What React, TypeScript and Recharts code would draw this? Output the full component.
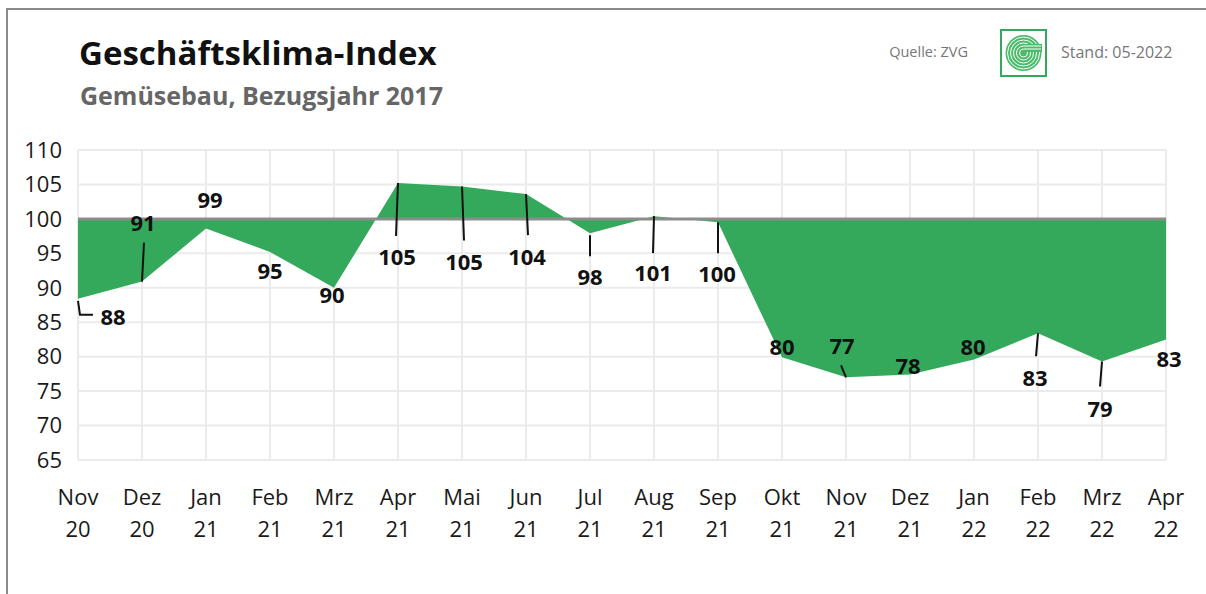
import { AreaChart, Area, XAxis, YAxis, CartesianGrid, ReferenceLine, LabelList } from "recharts";

const months = ["Nov", "Dez", "Jan", "Feb", "Mrz", "Apr", "Mai", "Jun", "Jul", "Aug", "Sep", "Okt", "Nov", "Dez", "Jan", "Feb", "Mrz", "Apr"];
const years = ["20", "20", "21", "21", "21", "21", "21", "21", "21", "21", "21", "21", "21", "21", "22", "22", "22", "22"];
const index = [88.4, 90.9, 98.6, 95.2, 90.0, 105.2, 104.7, 103.6, 97.9, 100.4, 99.5, 79.9, 77.0, 77.4, 79.6, 83.4, 79.3, 82.5];
const shownLabels = [88, 91, 99, 95, 90, 105, 105, 104, 98, 101, 100, 80, 77, 78, 80, 83, 79, 83];
const yTicks = [65, 70, 75, 80, 85, 90, 95, 100, 105, 110];

// where each value label sits relative to its point, plus an optional leader line
const labelLayout = [
  { dx: 35, dy: 18, leader: [[0, 2], [2, 16], [15, 16]] },
  { dx: 1, dy: -58, leader: [[0, 0], [2, -39]] },
  { dx: 4, dy: -28, leader: null },
  { dx: 0, dy: 19, leader: null },
  { dx: -2, dy: 7, leader: null },
  { dx: -1, dy: 74, leader: [[0, 0], [-2, 53]] },
  { dx: 2, dy: 76, leader: [[0, 0], [2, 54]] },
  { dx: 1, dy: 63, leader: [[0, 0], [2, 41]] },
  { dx: 0, dy: 44, leader: [[0, 2], [0, 23]] },
  { dx: -1, dy: 57, leader: [[0, 0], [-1, 37]] },
  { dx: -1, dy: 52, leader: [[0, 0], [0, 31]] },
  { dx: 0, dy: -10, leader: null },
  { dx: -4, dy: -31, leader: [[0, 0], [-5, -12]] },
  { dx: -2, dy: -8, leader: null },
  { dx: -1, dy: -12, leader: null },
  { dx: -3, dy: 45, leader: [[0, 0], [-2, 23]] },
  { dx: -2, dy: 48, leader: [[0, 0], [-2, 25]] },
  { dx: 3, dy: 20, leader: null },
];

const data = months.map((m, i) => ({ key: i, month: m, year: years[i], value: index[i], label: shownLabels[i] }));

const FONT = "'Open Sans', Lato, sans-serif";
const GREEN = "#35a95b";

function MonthTick({ x, y, payload }: any) {
  const d = data[payload.value];
  return (
    <g>
      <text x={x} y={y + 45} textAnchor="middle" fontSize={22} fill="#1a1a1a" fontFamily={FONT}>{d.month}</text>
      <text x={x} y={y + 77} textAnchor="middle" fontSize={22} fill="#1a1a1a" fontFamily={FONT}>{d.year}</text>
    </g>
  );
}

function ValueLabel(props: any) {
  const { x, y, index: i } = props;
  if (x == null || y == null) return null;
  const lay = labelLayout[i];
  return (
    <g>
      {lay.leader && (
        <polyline
          points={lay.leader.map(([a, b]) => `${x + a},${y + b}`).join(" ")}
          fill="none"
          stroke="#111"
          strokeWidth={2}
        />
      )}
      <text
        x={x + lay.dx}
        y={y + lay.dy}
        dy="0.36em"
        textAnchor="middle"
        fontSize={22}
        fontWeight={700}
        fill="#111"
        fontFamily={FONT}
      >
        {shownLabels[i]}
      </text>
    </g>
  );
}

function Logo() {
  return (
    <svg width={48} height={48} style={{ position: "absolute", left: 1000, top: 29 }}>
      <rect x={1} y={1} width={45} height={46} fill="#fff" stroke={GREEN} strokeWidth={2} />
      <circle cx={23.5} cy={24} r={18} fill="#4cbb6a" />
      {[4, 7, 10, 13, 16].map((r) => (
        <circle key={r} cx={23.5} cy={24} r={r} fill="none" stroke="#fff" strokeWidth={1} />
      ))}
      <rect x={24} y={15} width={18} height={8} fill="#4cbb6a" />
      <path d="M24 17 H41 M24 20 H41" stroke="#fff" strokeWidth={1} />
    </svg>
  );
}

export default function App() {
  return (
    <div style={{ position: "absolute", left: 0, top: 0, width: 1206, height: 594, background: "#fff", overflow: "hidden", fontFamily: FONT }}>
      <div style={{ position: "absolute", left: 6, top: 8, width: 1220, height: 600, borderTop: "2px solid #8a8a8a", borderLeft: "2px solid #8a8a8a" }} />
      <div style={{ position: "absolute", left: 79, top: 33, fontSize: 33, lineHeight: "40px", fontWeight: 700, color: "#111", whiteSpace: "nowrap" }}>
        Geschäftsklima-Index
      </div>
      <div style={{ position: "absolute", left: 80, top: 80, fontSize: 25, lineHeight: "30px", fontWeight: 700, color: "#666", whiteSpace: "nowrap" }}>
        Gemüsebau, Bezugsjahr 2017
      </div>
      <div style={{ position: "absolute", right: 1206 - 968, top: 42, fontSize: 14.5, lineHeight: "20px", color: "#777", whiteSpace: "nowrap" }}>Quelle: ZVG</div>
      <Logo />
      <div style={{ position: "absolute", left: 1061, top: 42, fontSize: 16, lineHeight: "20px", color: "#777", whiteSpace: "nowrap" }}>Stand: 05-2022</div>

      <div style={{ position: "absolute", left: 0, top: 0 }}>
        <AreaChart width={1206} height={594} data={data} margin={{ top: 150, right: 40, bottom: 54, left: 18 }}>
          <CartesianGrid stroke="#ebebeb" strokeWidth={2} />
          <XAxis
            dataKey="key"
            height={80}
            axisLine={false}
            tickLine={false}
            tickSize={0}
            tickMargin={0}
            interval={0}
            tick={<MonthTick />}
          />
          <YAxis
            width={60}
            domain={[65, 110]}
            ticks={yTicks}
            axisLine={false}
            tickLine={false}
            tickSize={0}
            tickMargin={16}
            tick={{ fontSize: 22, fill: "#1a1a1a", fontFamily: FONT }}
          />
          <Area
            type="linear"
            dataKey="value"
            baseValue={100}
            fill={GREEN}
            fillOpacity={1}
            stroke="none"
            isAnimationActive={false}
          />
          <ReferenceLine y={100} stroke="#8c8c8c" strokeWidth={3} />
          <Area
            type="linear"
            dataKey="value"
            fill="none"
            stroke="none"
            isAnimationActive={false}
            activeDot={false}
          >
            <LabelList dataKey="label" content={<ValueLabel />} />
          </Area>
        </AreaChart>
      </div>
    </div>
  );
}
